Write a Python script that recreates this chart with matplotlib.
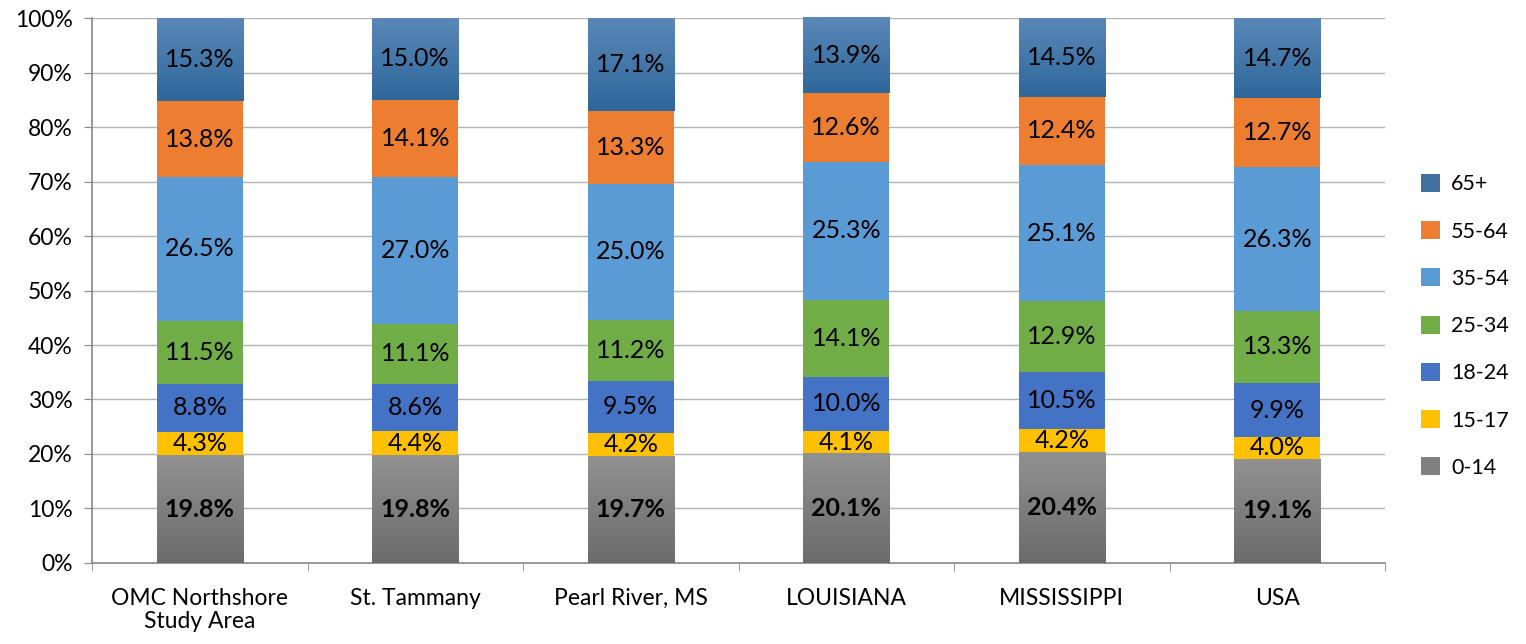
import numpy as np
import matplotlib.pyplot as plt
from matplotlib.colors import LinearSegmentedColormap
from matplotlib.patches import Patch

plt.rcParams['font.family'] = ['Lato', 'DejaVu Sans']

categories = ['OMC Northshore\nStudy Area', 'St. Tammany', 'Pearl River, MS',
              'LOUISIANA', 'MISSISSIPPI', 'USA']
groups = ['0-14', '15-17', '18-24', '25-34', '35-54', '55-64', '65+']
v_0_14 = [19.8, 19.8, 19.7, 20.1, 20.4, 19.1]
v_15_17 = [4.3, 4.4, 4.2, 4.1, 4.2, 4.0]
v_18_24 = [8.8, 8.6, 9.5, 10.0, 10.5, 9.9]
v_25_34 = [11.5, 11.1, 11.2, 14.1, 12.9, 13.3]
v_35_54 = [26.5, 27.0, 25.0, 25.3, 25.1, 26.3]
v_55_64 = [13.8, 14.1, 13.3, 12.6, 12.4, 12.7]
v_65 = [15.3, 15.0, 17.1, 13.9, 14.5, 14.7]
series = [v_0_14, v_15_17, v_18_24, v_25_34, v_35_54, v_55_64, v_65]
colors = ['#808080', '#FFC000', '#4472C4', '#70AD47', '#5B9BD5', '#ED7D31', '#41729F']
# (top colour, bottom colour)
gradients = {0: ('#919191', '#6c6c6c'), 6: ('#5a88b8', '#2f679b')}

fig = plt.figure(figsize=(15.26, 6.44), dpi=100)
ax = fig.add_axes([0.0603, 0.1258, 0.8473, 0.8462])

x = np.arange(len(categories))
width = 0.4
bottom = np.zeros(len(categories))
for i, vals in enumerate(series):
    bars = ax.bar(x, vals, width, bottom=bottom, color=colors[i], zorder=3)
    if i in gradients:
        cmap = LinearSegmentedColormap.from_list('g', list(gradients[i]))
        for b in bars:
            x0, y0, w, h = b.get_x(), b.get_y(), b.get_width(), b.get_height()
            grad = np.linspace(0, 1, 100).reshape(-1, 1)
            im = ax.imshow(grad, cmap=cmap, extent=[x0, x0 + w, y0, y0 + h],
                           aspect='auto', zorder=3.5, origin='upper')
            im.set_clip_path(b)
    for j, v in enumerate(vals):
        ax.text(x[j], bottom[j] + v / 2, f'{v:.1f}%', ha='center', va='center',
                fontsize=18, color='black', zorder=5,
                fontweight='bold' if i == 0 else 'normal')
    bottom += np.array(vals)

ax.set_xlim(-0.5, len(categories) - 0.5)
ax.set_ylim(0, 100)
ax.set_yticks(np.arange(0, 101, 10))
ax.set_yticklabels([f'{t}%' for t in range(0, 101, 10)], fontsize=16.5)
ax.set_xticks(x)
ax.set_xticklabels(categories, fontsize=16.5, linespacing=1.1)
ax.set_xticks(np.arange(-0.5, len(categories)), minor=True)
ax.tick_params(axis='x', which='major', length=0, pad=18)
ax.tick_params(axis='x', which='minor', length=6, color='#888888')
ax.tick_params(axis='y', length=6, color='#888888', pad=8)
ax.yaxis.grid(True, color='#b3b3b3', linewidth=1, zorder=0)
ax.set_axisbelow(True)
for s in ['top', 'right']:
    ax.spines[s].set_visible(False)
for s in ['left', 'bottom']:
    ax.spines[s].set_color('#888888')
    ax.spines[s].set_linewidth(1.2)

handles = [Patch(facecolor=colors[i]) for i in range(len(groups))][::-1]
fig.legend(handles, groups[::-1], loc='center left', bbox_to_anchor=(0.924, 0.494),
           frameon=False, fontsize=15.5, handlelength=0.9, handleheight=0.9,
           labelspacing=1.25, handletextpad=0.5, borderpad=0)

fig.savefig('out.png', dpi=100)
